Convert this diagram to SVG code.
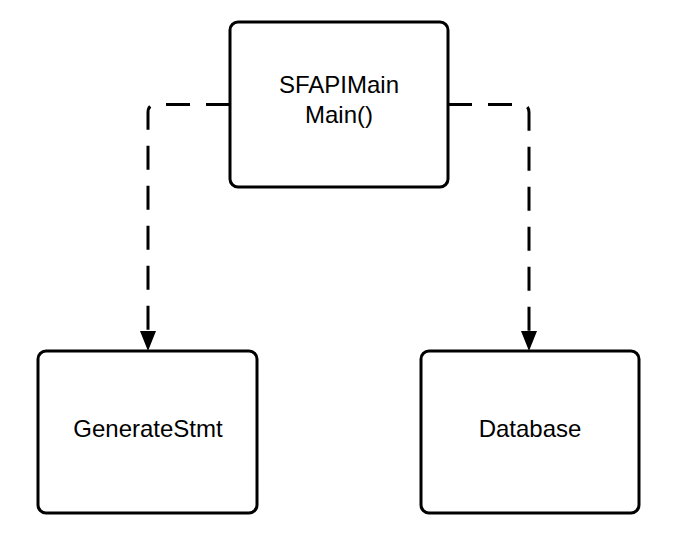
<svg xmlns="http://www.w3.org/2000/svg" width="698" height="547" viewBox="0 0 698 547">
<defs>
<style>
.node rect{fill:#fff;stroke:#000;stroke-width:3}
.node text{font-family:"Liberation Sans",Arial,sans-serif;font-size:24px;fill:#000;text-anchor:middle}
.conn{fill:none;stroke:#000;stroke-width:3;stroke-dasharray:24 16}
.head{fill:#000;stroke:none}
</style>
</defs>
<rect width="698" height="547" fill="#fff"/>
<g id="connectors">
<path class="conn" d="M230,104.5 L156,104.5 Q148,104.5 148,112.5 L148,333"/>
<polygon class="head" points="148,351 140,331 156,331"/>
<path class="conn" d="M448,104.5 L521,104.5 Q529,104.5 529,112.5 L529,333"/>
<polygon class="head" points="529,351 521,331 537,331"/>
</g>
<g id="sfapimain" class="node">
<rect x="230" y="22" width="218" height="165" rx="8"/>
<text x="339" y="93">SFAPIMain</text>
<text x="339" y="122.5">Main()</text>
</g>
<g id="generatestmt" class="node">
<rect x="38" y="351" width="219" height="162" rx="8"/>
<text x="148" y="437">GenerateStmt</text>
</g>
<g id="database" class="node">
<rect x="421" y="351" width="218" height="162" rx="8"/>
<text x="530" y="437">Database</text>
</g>
</svg>
